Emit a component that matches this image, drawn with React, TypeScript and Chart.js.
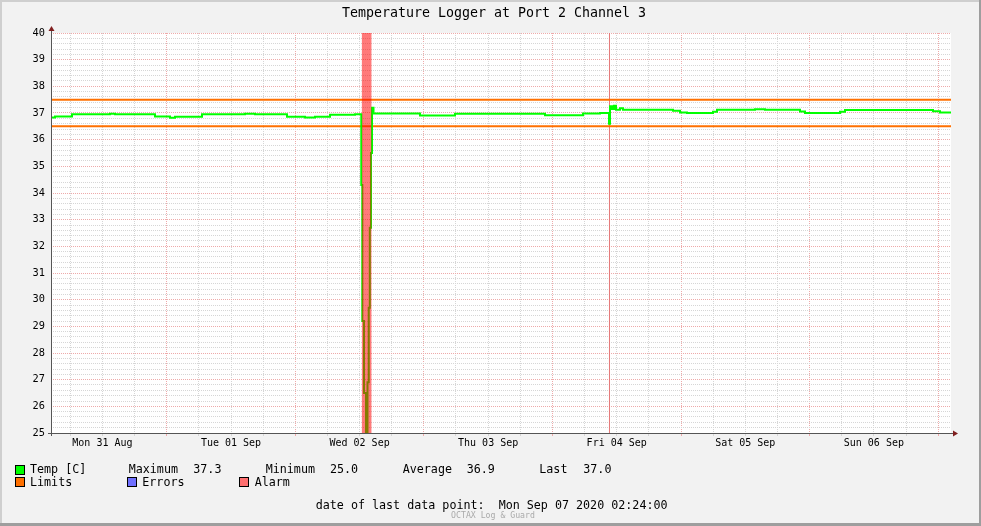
import { useEffect, useRef } from 'react';
import { Chart, registerables } from 'chart.js';

Chart.register(...registerables);

const FONT = "'DejaVu Sans Mono', monospace";

const TITLE = 'Temperature Logger at Port 2 Channel 3';
const DAY_LABELS = ['Mon 31 Aug', 'Tue 01 Sep', 'Wed 02 Sep', 'Thu 03 Sep', 'Fri 04 Sep', 'Sat 05 Sep', 'Sun 06 Sep'];
const SPAN_HOURS = 168; // window: Mon 31 Aug 02:24 .. Mon 07 Sep 02:24
const START_CLOCK = 2.4; // hour of day at window start
const Y_MIN = 25;
const Y_MAX = 40;

// Temperature samples (hours since window start, °C)
const tempHours = [0, 0.75, 3.92, 11.01, 11.95, 19.41, 22.21, 23.15, 28.19, 36.21,
  38.08, 44.05, 47.41, 49.28, 52.08, 56.75, 57.92, 58.11, 58.43, 58.8,
  59.08, 59.31, 59.51, 59.73, 59.92, 60.2, 68.88, 75.41, 92.21, 99.31,
  102.48, 104.16, 104.35, 104.72, 105.09, 105.47, 106.21, 106.77, 116.11, 117.41,
  118.72, 123.57, 124.32, 131.41, 133.28, 139.81, 140.75, 147.28, 148.21, 164.64,
  165.95, 168];
const tempValues = [36.83, 36.87, 36.95, 36.97, 36.95, 36.87, 36.82, 36.86, 36.95, 36.97,
  36.95, 36.86, 36.83, 36.86, 36.93, 36.95, 34.3, 29.2, 26.5, 25.0,
  26.9, 29.7, 32.7, 35.5, 37.2, 36.98, 36.91, 36.97, 36.92, 36.98,
  37.0, 36.6, 37.25, 37.15, 37.27, 37.12, 37.18, 37.12, 37.08, 37.02,
  37.0, 37.05, 37.12, 37.14, 37.12, 37.06, 37.0, 37.05, 37.11, 37.07,
  37.02, 37.0];

const limitHours = [0, 168];
const LIMIT_HIGH = 37.5;
const LIMIT_LOW = 36.5;
const alarmHours = [57.99, 59.86];
const eventHours = [104.25];

const statLabels = ['Maximum', 'Minimum', 'Average', 'Last'];
const statValues = ['37.3', '25.0', '36.9', '37.0'];
const LAST_POINT = 'Mon Sep 07 2020 02:24:00';

const COL_TEMP = '#00ff00';
const COL_LIMIT = '#ff7000';
const COL_ERR = '#7070ff';
const COL_ALARM = '#ff7070';
const COL_GRID = '#d6d6d6';
const COL_MGRID = '#eeaaaa';

const near = (a: number, b: number) => Math.abs(a - b) < 0.01;
const modDay = (h: number, off: number) => ((h - off) % 24 + 24) % 24;
const NOON_OFF = 12 - START_CLOCK;
const MIDNIGHT_OFF = 24 - START_CLOCK;

const framePlugin = {
  id: 'rrdFrame',
  beforeDraw(chart: any) {
    const { ctx, width, height, chartArea: a } = chart;
    ctx.save();
    ctx.fillStyle = '#f2f2f2';
    ctx.fillRect(0, 0, width, height);
    ctx.fillStyle = '#cfcfcf';
    ctx.fillRect(0, 0, width, 2);
    ctx.fillRect(0, 0, 2, height);
    ctx.fillStyle = '#9e9e9e';
    ctx.fillRect(0, height - 3, width, 3);
    ctx.fillRect(width - 2, 0, 2, height);
    ctx.fillStyle = '#ffffff';
    ctx.fillRect(a.left, a.top, a.right - a.left, a.bottom - a.top);
    ctx.restore();
  },
  afterDatasetsDraw(chart: any) {
    const { ctx, chartArea: a } = chart;
    ctx.save();
    ctx.strokeStyle = '#555555';
    ctx.lineWidth = 1;
    ctx.beginPath();
    ctx.moveTo(a.left - 3, a.bottom + 0.5);
    ctx.lineTo(a.right + 3, a.bottom + 0.5);
    ctx.moveTo(a.left + 0.5, a.bottom + 3);
    ctx.lineTo(a.left + 0.5, a.top - 4);
    ctx.stroke();
    ctx.fillStyle = '#801f1f';
    ctx.beginPath();
    ctx.moveTo(a.left + 0.5, a.top - 7);
    ctx.lineTo(a.left - 2.5, a.top - 2);
    ctx.lineTo(a.left + 3.5, a.top - 2);
    ctx.closePath();
    ctx.fill();
    ctx.beginPath();
    ctx.moveTo(a.right + 7, a.bottom + 0.5);
    ctx.lineTo(a.right + 2, a.bottom - 2.5);
    ctx.lineTo(a.right + 2, a.bottom + 3.5);
    ctx.closePath();
    ctx.fill();
    ctx.restore();
  },
  afterDraw(chart: any) {
    const { ctx } = chart;
    ctx.save();
    ctx.fillStyle = '#000';
    ctx.textBaseline = 'middle';
    ctx.textAlign = 'center';
    ctx.font = `13.3px ${FONT}`;
    ctx.fillText(TITLE, 494, 14);

    const box = (x: number, y: number, c: string) => {
      ctx.fillStyle = c;
      ctx.fillRect(x, y, 10, 10);
      ctx.strokeStyle = '#000';
      ctx.lineWidth = 1;
      ctx.strokeRect(x + 0.5, y + 0.5, 9, 9);
    };
    box(15, 465, COL_TEMP);
    box(15, 477, COL_LIMIT);
    box(127, 477, COL_ERR);
    box(239, 477, COL_ALARM);

    ctx.font = `11.7px ${FONT}`;
    ctx.textAlign = 'left';
    ctx.fillStyle = '#000';
    ctx.fillText('Temp [C]', 30, 470);
    const labelX = [128.7, 265.7, 402.7, 539.3];
    const valueX = [193.3, 330, 466.7, 583.3];
    statLabels.forEach((s, i) => {
      ctx.fillText(s, labelX[i], 470);
      ctx.fillText(statValues[i], valueX[i], 470);
    });
    ctx.fillText('Limits', 30, 482.5);
    ctx.fillText('Errors', 142.3, 482.5);
    ctx.fillText('Alarm', 254.7, 482.5);
    ctx.fillText('date of last data point:  ' + LAST_POINT, 315.7, 506);

    ctx.font = `8.2px ${FONT}`;
    ctx.fillStyle = '#aaaaaa';
    ctx.textAlign = 'center';
    ctx.fillText('OCTAX Log & Guard', 493, 515.5);
    ctx.restore();
  },
};

export default function App() {
  const ref = useRef<HTMLCanvasElement>(null);
  useEffect(() => {
    document.body.style.margin = '0';
    const canvas = ref.current!;
    const tempData = tempHours.map((h, i) => ({ x: h, y: tempValues[i] }));
    const hiData = limitHours.map((h) => ({ x: h, y: LIMIT_HIGH }));
    const loData = limitHours.map((h) => ({ x: h, y: LIMIT_LOW }));
    const alarmData = alarmHours.map((h) => ({ x: h, y: Y_MAX }));
    const eventData = [{ x: eventHours[0], y: Y_MIN }, { x: eventHours[0], y: Y_MAX }];

    const xGridColor = (c: any) => {
      const v = c.tick ? c.tick.value : 0;
      const m = modDay(v, MIDNIGHT_OFF);
      return near(m, 0) || near(m, 24) ? COL_MGRID : COL_GRID;
    };
    const yGridColor = (c: any) => {
      const v = c.tick ? c.tick.value : 0;
      return Math.abs(v - Math.round(v)) < 0.01 ? COL_MGRID : COL_GRID;
    };

    const chart = new Chart(canvas, {
      type: 'line',
      data: {
        datasets: [
          {
            data: alarmData,
            borderWidth: 0,
            borderColor: 'rgba(0,0,0,0)',
            backgroundColor: 'rgba(255,0,0,0.52)',
            fill: 'start',
            pointRadius: 0,
          },
          {
            data: tempData,
            borderColor: COL_TEMP,
            borderWidth: 2,
            stepped: true,
            pointRadius: 0,
            fill: false,
          },
          {
            data: hiData,
            borderColor: COL_LIMIT,
            borderWidth: 2,
            pointRadius: 0,
            fill: false,
          },
          {
            data: loData,
            borderColor: COL_LIMIT,
            borderWidth: 2,
            pointRadius: 0,
            fill: false,
          },
          {
            data: eventData,
            borderColor: '#e57878',
            borderWidth: 1,
            pointRadius: 0,
            fill: false,
          },
        ],
      } as any,
      options: {
        responsive: false,
        animation: false,
        devicePixelRatio: 1,
        events: [],
        layout: { padding: { left: 0, right: 30, top: 33, bottom: 0 } },
        plugins: {
          legend: { display: false },
          title: { display: false },
          tooltip: { enabled: false },
        },
        scales: {
          x: {
            type: 'linear',
            min: 0,
            max: SPAN_HOURS,
            afterFit: (s: any) => { s.height = 93; },
            afterBuildTicks: (s: any) => {
              const t: any[] = [];
              for (let h = 6 - START_CLOCK; h <= SPAN_HOURS + 0.001; h += 6) {
                t.push({ value: Math.round(h * 100) / 100 });
              }
              s.ticks = t;
            },
            ticks: {
              autoSkip: false,
              maxRotation: 0,
              padding: 1,
              color: '#000',
              font: { family: FONT, size: 10 },
              callback: (v: any) => {
                const m = modDay(Number(v), NOON_OFF);
                if (near(m, 0) || near(m, 24)) {
                  const idx = Math.round((Number(v) - NOON_OFF) / 24);
                  return DAY_LABELS[idx] ?? '';
                }
                return '';
              },
            },
            grid: {
              color: xGridColor,
              lineWidth: 1,
              drawTicks: true,
              tickLength: 3,
              tickColor: xGridColor,
            },
            border: { display: false, dash: [1, 1] },
          },
          y: {
            type: 'linear',
            min: Y_MIN,
            max: Y_MAX,
            afterFit: (s: any) => { s.width = 51; },
            afterBuildTicks: (s: any) => {
              const t: any[] = [];
              for (let i = 0; i <= (Y_MAX - Y_MIN) * 5; i++) {
                t.push({ value: Math.round((Y_MIN + i * 0.2) * 10) / 10 });
              }
              s.ticks = t;
            },
            ticks: {
              autoSkip: false,
              padding: 6,
              color: '#000',
              font: { family: FONT, size: 10.3 },
              callback: (v: any) => (Math.abs(Number(v) - Math.round(Number(v))) < 0.01 ? String(Math.round(Number(v))) : ''),
            },
            grid: {
              color: yGridColor,
              lineWidth: 1,
              drawTicks: false,
            },
            border: { display: false, dash: [1, 1] },
          },
        },
      } as any,
      plugins: [framePlugin],
    });
    return () => chart.destroy();
  }, []);
  return (
    <div style={{ position: 'absolute', left: 0, top: 0, width: 981, height: 526 }}>
      <canvas ref={ref} width={981} height={526} style={{ display: 'block', width: 981, height: 526 }} />
    </div>
  );
}
